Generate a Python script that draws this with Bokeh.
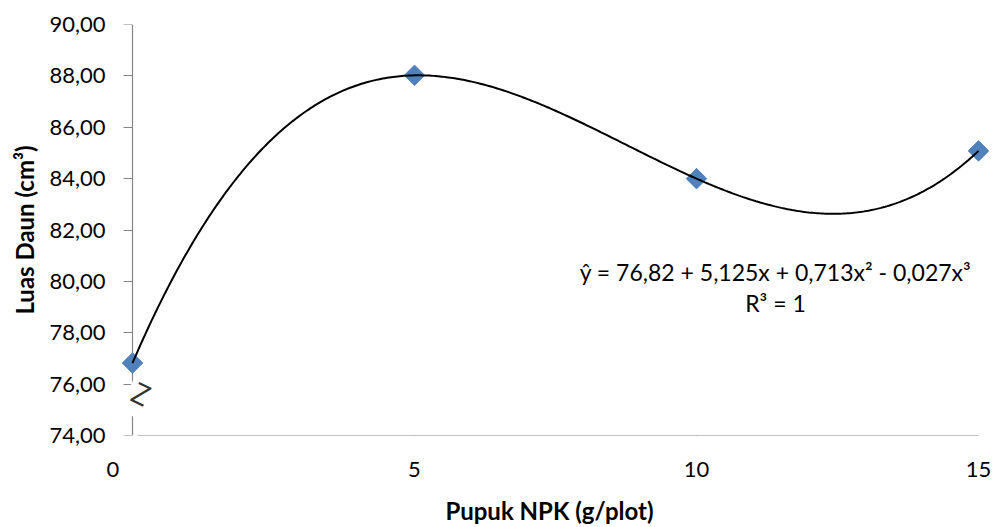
import numpy as np
from bokeh.plotting import figure
from bokeh.models import Range1d, FixedTicker, Label, LinearAxis, CustomJSTickFormatter
from bokeh.embed import file_html
from bokeh.resources import INLINE

# ---- data ----
x_vals = [0, 5, 10, 15]
y_vals = [76.82, 88.02, 84.00, 85.08]
x_ticks = [5, 10, 15]
y_ticks = [74, 76, 78, 80, 82, 84, 86, 88, 90]
equation = "ŷ = 76,82 + 5,125x + 0,713x² - 0,027x³"
r_text = "R³ = 1"
x_title = "Pupuk NPK (g/plot)"
y_title = "Luas Daun (cm³)"
zero_label = "0"

FONT = "Lato"
AXIS_COLOR = "#868686"
ZERO_LABEL_POS = -0.346   # the "0" label sits a little left of the y axis

p = figure(width=995, height=527, output_backend="svg", toolbar_location=None,
           x_range=Range1d(-0.461, 15.248), y_range=Range1d(74, 90),
           min_border_left=106, min_border_right=3, min_border_top=24, min_border_bottom=91,
           x_axis_location=None, y_axis_location=None)
p.outline_line_color = None
p.grid.grid_line_color = None
p.background_fill_color = "white"
p.border_fill_color = "white"

blank = CustomJSTickFormatter(code="return '';")

# y axis: labels + title at the frame edge
ylab = LinearAxis(ticker=FixedTicker(ticks=y_ticks),
                  formatter=CustomJSTickFormatter(code="return tick.toFixed(2).replace('.', ',');"),
                  axis_line_color=None, major_tick_line_color=None,
                  major_tick_out=0, major_tick_in=0, minor_tick_out=0, minor_tick_in=0,
                  major_label_standoff=1, major_label_text_font=FONT,
                  major_label_text_font_size="22px", major_label_text_color="black",
                  axis_label=y_title, axis_label_text_font=FONT,
                  axis_label_text_font_style="bold", axis_label_text_font_size="24px",
                  axis_label_text_color="black", axis_label_standoff=7)
p.add_layout(ylab, "left")
# y axis line + ticks at x = 0
yline = LinearAxis(fixed_location=0, ticker=FixedTicker(ticks=y_ticks), bounds=(74, 90),
                   formatter=blank, axis_line_color=AXIS_COLOR, axis_line_width=1.2,
                   major_tick_line_color=AXIS_COLOR, major_tick_line_width=1.2,
                   major_tick_out=9, major_tick_in=0, minor_tick_out=0, minor_tick_in=0)
p.add_layout(yline, "left")

# x axis: labels + title
xlab = LinearAxis(ticker=FixedTicker(ticks=[ZERO_LABEL_POS] + x_ticks),
                  formatter=CustomJSTickFormatter(code="return tick < 0 ? '%s' : tick.toString();" % zero_label),
                  axis_line_color=None, major_tick_line_color=None,
                  major_tick_out=0, major_tick_in=0, minor_tick_out=0, minor_tick_in=0,
                  major_label_standoff=26, major_label_text_font=FONT,
                  major_label_text_font_size="22px", major_label_text_color="black",
                  axis_label=x_title, axis_label_text_font=FONT,
                  axis_label_text_font_style="bold", axis_label_text_font_size="24px",
                  axis_label_text_color="black", axis_label_standoff=16)
p.add_layout(xlab, "below")
# x axis line + ticks (starts just right of the y axis break)
xline = LinearAxis(fixed_location=74, ticker=FixedTicker(ticks=x_ticks), bounds=(0.09, 15),
                   formatter=blank, axis_line_color=AXIS_COLOR, axis_line_width=1.2,
                   major_tick_line_color=AXIS_COLOR, major_tick_line_width=1.2,
                   major_tick_out=8, major_tick_in=0, minor_tick_out=0, minor_tick_in=0)
p.add_layout(xline, "below")

# axis break mark (drawn before the points so the marker stays on top)
p.add_layout(Label(x=0.16, y=75.64, text="Z", text_align="center", text_baseline="middle",
                   angle=-0.45, text_font="Open Sans", text_font_size="29px",
                   text_color="#333333", background_fill_color="white", padding=5))

# points and fitted cubic trend line
p.scatter(x_vals, y_vals, marker="square", angle=np.pi / 4, size=14.5,
          fill_color="#4F81BD", line_color="#4F81BD", level="overlay")
coefs = np.polyfit(x_vals, y_vals, 3)
xs = np.linspace(min(x_vals), max(x_vals), 400)
p.line(xs, np.polyval(coefs, xs), line_color="black", line_width=2, level="overlay")

# equation text
p.add_layout(Label(x=11.40, y=80.37, text=equation, text_align="center", text_baseline="middle",
                   text_font=FONT, text_font_size="23px", text_color="black"))
p.add_layout(Label(x=11.40, y=79.17, text=r_text, text_align="center", text_baseline="middle",
                   text_font=FONT, text_font_size="23px", text_color="black"))

open("out.html", "w").write(file_html(p, INLINE))
